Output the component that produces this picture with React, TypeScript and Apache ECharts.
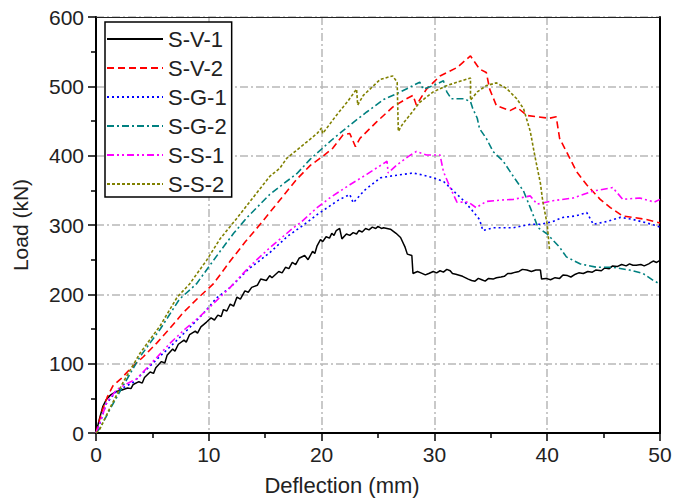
import React, { useEffect, useRef } from "react";
import * as echarts from "echarts";

const seriesNames = ["S-V-1", "S-V-2", "S-G-1", "S-G-2", "S-S-1", "S-S-2"];
const seriesColors = ["#000000", "#FF0000", "#0000FF", "#008080", "#FF00FF", "#808000"];

const sv1: number[][] = [[0,0],[0.3,20],[0.6,38],[0.9,48],[1.3,55],[1.8,60],[2.3,62],[2.8,65],[3.1,64],[3.3,70],[3.8,74],[4.1,72],[4.3,80],[4.8,88],[5.1,86],[5.3,94],[5.8,103],[6.1,101],[6.3,112],[6.8,121],[7.0,118],[7.3,128],[7.8,134],[8.0,131],[8.3,142],[8.8,147],[9.0,144],[9.3,153],[9.8,160],[10.2,166],[10.5,163],[10.8,170],[11.1,168],[11.3,178],[11.6,176],[11.9,186],[12.2,183],[12.5,196],[12.8,193],[13.2,205],[13.5,203],[13.8,210],[14.3,213],[14.6,222],[15.1,220],[15.4,227],[15.6,224],[16.2,233],[16.5,231],[16.8,239],[17.1,237],[17.4,246],[17.7,243],[18,252],[18.5,256],[18.8,250],[19.2,262],[19.4,259],[19.6,270],[19.9,279],[20.1,276],[20.4,283],[20.7,281],[20.9,288],[21.1,285],[21.3,292],[21.6,295],[21.8,280],[22.2,287],[22.5,285],[22.8,289],[23.1,287],[23.3,292],[23.6,290],[23.9,295],[24.2,293],[24.5,297],[24.8,295],[25,298],[25.3,295],[25.5,296],[26.1,294],[26.6,288],[27,282],[27.4,268],[27.6,258],[28,256],[28.1,230],[28.5,233],[28.8,231],[29.2,228],[29.5,230],[29.9,233],[30.2,231],[30.5,234],[30.8,232],[31.1,236],[31.4,234],[31.6,230],[31.9,229],[32.5,226],[33,222],[33.3,220],[33.6,219],[33.9,223],[34.2,221],[34.5,219],[34.8,223],[35.2,222],[35.5,224],[35.9,225],[36.2,226],[36.5,230],[36.8,230],[37.2,232],[37.5,233],[37.8,236],[38.2,235],[38.6,233],[39,235],[39.4,235],[39.5,222],[39.9,223],[40.3,221],[40.7,224],[41.1,223],[41.4,228],[41.8,227],[42.1,225],[42.5,229],[42.8,231],[43.2,230],[43.6,233],[44,232],[44.3,235],[44.8,234],[45.1,238],[45.5,237],[45.8,241],[46.2,240],[46.6,243],[47,241],[47.3,244],[47.6,242],[47.9,242],[48.3,243],[48.6,241],[49,244],[49.2,246],[49.4,248],[49.7,246],[50,249]];

const sv2: number[][] = [[0,0],[0.5,30],[1,52],[1.5,68],[2.2,78],[3,92],[4.2,110],[5.4,130],[6.5,150],[7.7,173],[9,194],[10.4,215],[11.9,248],[13.2,275],[14.5,300],[16,330],[17.8,366],[19,386],[20.1,399],[21,411],[21.9,430],[22.5,432],[23,413],[23.4,425],[24.9,449],[26.3,470],[27.5,482],[28.1,487],[28.4,473],[29.3,496],[30.5,515],[32,527],[33.2,544],[33.4,539],[34,525],[34.6,520],[34.9,496],[35.5,472],[36.7,465],[37.3,470],[38.2,458],[39.1,456],[40.2,454],[40.8,456],[41.1,425],[41.7,406],[42.6,377],[43.5,358],[44.7,337],[45.6,325],[46.7,313],[47.6,311],[48.8,308],[50,303]];

const sg1: number[][] = [[0,0],[0.35,14],[0.9,42],[1.8,60],[3.3,73],[4.5,92],[5.7,111],[7,131],[8.3,152],[9.5,172],[10.7,195],[11.9,210],[13.5,236],[15.4,260],[17,284],[18.4,300],[19.6,315],[20.6,326],[21.5,336],[22.5,344],[22.8,332],[23.8,350],[25.2,368],[26.3,371],[27.2,373],[28.1,375],[29,372],[29.9,368],[30.8,363],[31.7,349],[32.6,335],[33.3,322],[34,308],[34.3,292],[35.2,296],[36.1,296],[37,296],[38.5,301],[39.4,301],[40.5,305],[41.4,311],[42.5,313],[43.5,318],[44.1,301],[45.3,305],[46.5,311],[47.6,308],[48.8,303],[49.7,299],[50,297]];

const sg2: number[][] = [[0,0],[0.4,8],[1.2,33],[2.4,68],[3.9,110],[5.7,150],[7.4,193],[8.9,215],[11,262],[12.2,288],[13.4,311],[15.4,344],[16.5,358],[17.8,374],[19,395],[20.1,411],[21,424],[22.5,444],[24,463],[25.5,481],[27,492],[28.1,501],[28.7,506],[29,496],[29.9,501],[30.8,508],[31.1,492],[31.5,482],[32.6,482],[33.2,478],[33.4,468],[33.8,454],[34,439],[34.6,425],[35.2,406],[36.1,392],[37,370],[37.9,349],[38.5,325],[39.2,296],[40,287],[41.1,268],[41.7,254],[42.9,244],[44.4,239],[45.8,239],[47.3,235],[48.5,230],[49.4,220],[50,215]];

const ss1: number[][] = [[0,0],[0.35,15],[0.95,44],[1.8,62],[2.6,70],[3.6,78],[5.1,104],[6.6,130],[7.9,150],[9.2,168],[10.5,188],[11.9,210],[13.6,240],[15.4,267],[17.5,296],[18.1,303],[19.6,325],[20.8,340],[22.5,358],[24,373],[25.8,392],[25.9,375],[26.7,387],[27.7,399],[28.4,406],[29.3,401],[30.5,401],[30.8,377],[31.4,354],[32,333],[33,333],[33.7,325],[34.6,334],[36,336],[37,337],[38.5,342],[39.1,330],[40.5,335],[42.3,339],[44.1,349],[45.8,354],[46.7,337],[48.2,339],[49.5,333],[50,337]];

const ss2: number[][] = [[0,0],[0.35,6],[1.2,35],[2.4,73],[3.9,115],[5.7,155],[7.2,196],[8.3,215],[9.8,249],[11,280],[12.5,310],[13.9,339],[15.4,370],[16.3,382],[16.9,396],[18.4,416],[19.6,432],[20,440],[20.1,432],[21.3,458],[22.3,478],[23.1,496],[23.2,473],[23.7,487],[25.2,510],[26.3,515],[26.7,506],[26.8,435],[27.2,446],[27.8,458],[28.7,477],[29.9,492],[31.1,501],[32.2,507],[33.2,512],[33.2,480],[33.8,492],[34.6,501],[35.5,505],[36.4,497],[37.3,482],[37.9,468],[38.5,435],[38.9,400],[39.4,360],[39.6,335],[40,301],[40.2,265]];

const seriesData = [sv1, sv2, sg1, sg2, ss1, ss2];
const dashTypes: any[] = ["solid", [7, 4], [2, 3], [7, 3, 2, 3], [7, 3, 2, 3, 2, 3], [3, 2]];

const FONT = "Liberation Sans, Arial, sans-serif";

export default function App() {
  const ref = useRef<HTMLDivElement>(null);
  useEffect(() => {
    if (!ref.current) return;
    const chart = echarts.init(ref.current, null, { renderer: "svg" });
    const gridLine = { show: true, lineStyle: { color: "#b8b8b8", width: 1.5, type: [8, 3, 2, 3] } };
    chart.setOption({
      animation: false,
      backgroundColor: "#ffffff",
      textStyle: { fontFamily: FONT },
      grid: { left: 96, right: 15, top: 17, bottom: 64 },
      legend: {
        orient: "vertical",
        left: 105,
        top: 22,
        data: seriesNames,
        itemWidth: 56,
        itemHeight: 2,
        itemGap: 7,
        padding: [6, 5, 2, 1],
        backgroundColor: "#ffffff",
        borderColor: "#000000",
        borderWidth: 1.5,
        itemStyle: { opacity: 0, borderWidth: 0 },
        textStyle: { fontFamily: FONT, fontSize: 22, color: "#222", lineHeight: 22 },
        z: 10,
      },
      xAxis: [
        {
          type: "value",
          min: 0,
          max: 50,
          interval: 10,
          name: "Deflection (mm)",
          nameLocation: "middle",
          nameGap: 41,
          nameTextStyle: { fontFamily: FONT, fontSize: 22, color: "#222", padding: [0, 72, 0, 0] },
          axisLine: { show: true, onZero: false, lineStyle: { color: "#000", width: 2 } },
          axisTick: { show: true, inside: false, length: 8, lineStyle: { color: "#000", width: 1.5 } },
          minorTick: { show: true, splitNumber: 2, length: 5, lineStyle: { color: "#000", width: 1.5 } },
          axisLabel: { fontFamily: FONT, fontSize: 21, color: "#222", margin: 11 },
          splitLine: gridLine,
        },
        {
          type: "value",
          position: "top",
          min: 0,
          max: 50,
          interval: 10,
          axisLine: { show: true, onZero: false, lineStyle: { color: "#222", width: 1 } },
          axisTick: { show: false },
          axisLabel: { show: false },
          splitLine: { show: false },
        },
      ],
      yAxis: [
        {
          type: "value",
          min: 0,
          max: 600,
          interval: 100,
          name: "Load (kN)",
          nameLocation: "middle",
          nameGap: 65,
          nameRotate: 90,
          nameTextStyle: { fontFamily: FONT, fontSize: 21, color: "#222" },
          axisLine: { show: true, onZero: false, lineStyle: { color: "#000", width: 2 } },
          axisTick: { show: true, inside: false, length: 8, lineStyle: { color: "#000", width: 1.5 } },
          minorTick: { show: true, splitNumber: 2, length: 5, lineStyle: { color: "#000", width: 1.5 } },
          axisLabel: { fontFamily: FONT, fontSize: 21, color: "#222", margin: 12 },
          splitLine: gridLine,
        },
        {
          type: "value",
          position: "right",
          min: 0,
          max: 600,
          interval: 100,
          axisLine: { show: true, onZero: false, lineStyle: { color: "#000", width: 2 } },
          axisTick: { show: false },
          axisLabel: { show: false },
          splitLine: { show: false },
        },
      ],
      series: seriesNames.map((name, i) => ({
        name,
        type: "line",
        data: seriesData[i],
        showSymbol: false,
        symbol: "none",
        color: seriesColors[i],
        lineStyle: { color: seriesColors[i], width: i === 0 ? 1.5 : 1.6, type: dashTypes[i] },
        z: 3,
      })),
    });
    return () => chart.dispose();
  }, []);
  return (
    <div
      ref={ref}
      style={{ position: "fixed", left: 0, top: 0, width: 675, height: 501 }}
    />
  );
}
